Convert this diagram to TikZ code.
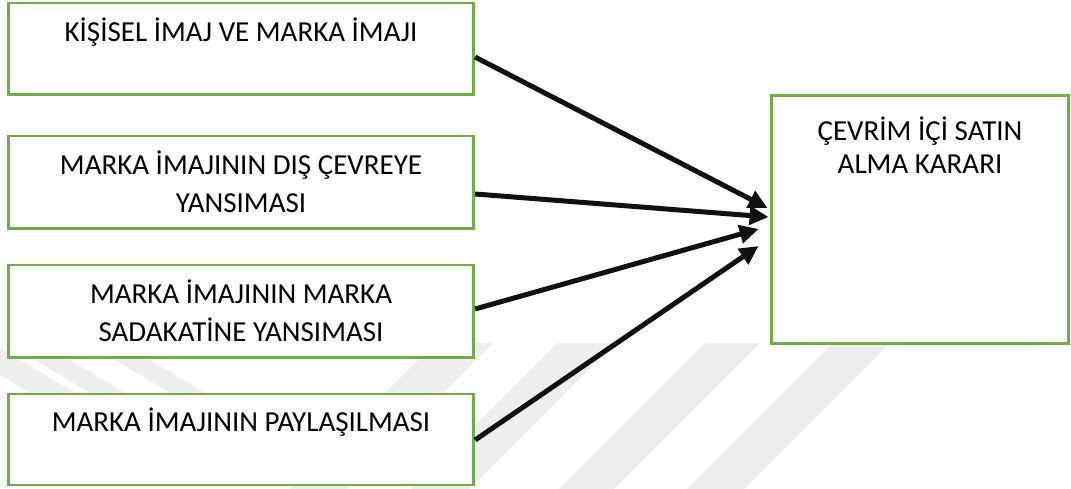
\documentclass[tikz,border=0pt]{standalone}
\usepackage{fontspec}
\setmainfont{Carlito}
\usetikzlibrary{arrows.meta,calc}
\definecolor{boxgreen}{HTML}{70AD47}
\definecolor{wmgray}{HTML}{EEEEEE}
\definecolor{ink}{HTML}{111111}
\tikzset{
  box/.style={rectangle, draw=boxgreen, line width=2.8pt, fill=white, inner sep=0pt},
  boxtext/.style={anchor=base, inner sep=0pt, font=\fontsize{29}{35}\selectfont, text=black},
  link/.style={draw=ink, line width=5pt, -{Triangle[length=19pt,width=18pt]}},
  stripe/.style={fill=wmgray, draw=none}
}
\begin{document}
\begin{tikzpicture}[x=1pt,y=-1pt]
\useasboundingbox (0,0) rectangle (1071,489);

% faint background stripes
\fill[stripe] (435,343) -- (493,343) -- (347,489) -- (289,489) -- cycle;
\fill[stripe] (557,343) -- (615,343) -- (469,489) -- (411,489) -- cycle;
\fill[stripe] (705,343) -- (760,343) -- (614,489) -- (559,489) -- cycle;
\fill[stripe] (833,343) -- (890,343) -- (744,489) -- (687,489) -- cycle;
\fill[stripe] (-53,343) -- (-8,343) -- (87,400) -- (42,400) -- cycle;
\fill[stripe] (7,343) -- (42,343) -- (137,400) -- (102,400) -- cycle;
\fill[stripe] (87,343) -- (122,343) -- (217,400) -- (182,400) -- cycle;

% boxes
\node[box, minimum width=465.4pt, minimum height=91.3pt] (b1) at (241,48.65) {};
\node[box, minimum width=465.4pt, minimum height=92.7pt] (b2) at (241,182.35) {};
\node[box, minimum width=465.4pt, minimum height=92.3pt] (b3) at (241,311.15) {};
\node[box, minimum width=465.4pt, minimum height=91pt] (b4) at (241,439.5) {};
\node[box, minimum width=297.2pt, minimum height=247.8pt] (b5) at (919.9,219.4) {};

% texts
\node[boxtext] (t1) at (241,41.7) {KİŞİSEL İMAJ VE MARKA İMAJI};
\node[boxtext] (t2a) at (241,175) {MARKA İMAJININ DIŞ ÇEVREYE};
\node[boxtext] (t2b) at (241,213) {YANSIMASI};
\node[boxtext] (t3a) at (241,303.3) {MARKA İMAJININ MARKA};
\node[boxtext] (t3b) at (241,341.7) {SADAKATİNE YANSIMASI};
\node[boxtext] (t4) at (241,431.7) {MARKA İMAJININ PAYLAŞILMASI};
\node[boxtext] (t5a) at (920,141) {ÇEVRİM İÇİ SATIN};
\node[boxtext] (t5b) at (920,173.3) {ALMA KARARI};

% connectors
\draw[link] ($(b1.east)+(0,8.4)$) -- ($(b5.west)+(-2.3,-11.4)$);
\draw[link] ($(b2.east)+(0,11.65)$) -- ($(b5.west)+(-1.3,-2.4)$);
\draw[link] ($(b3.east)+(0,-2.15)$) -- ($(b5.west)+(-11.3,9.6)$);
\draw[link] ($(b4.east)+(0,0.5)$) -- ($(b5.west)+(-11.3,26.6)$);
\end{tikzpicture}
\end{document}
